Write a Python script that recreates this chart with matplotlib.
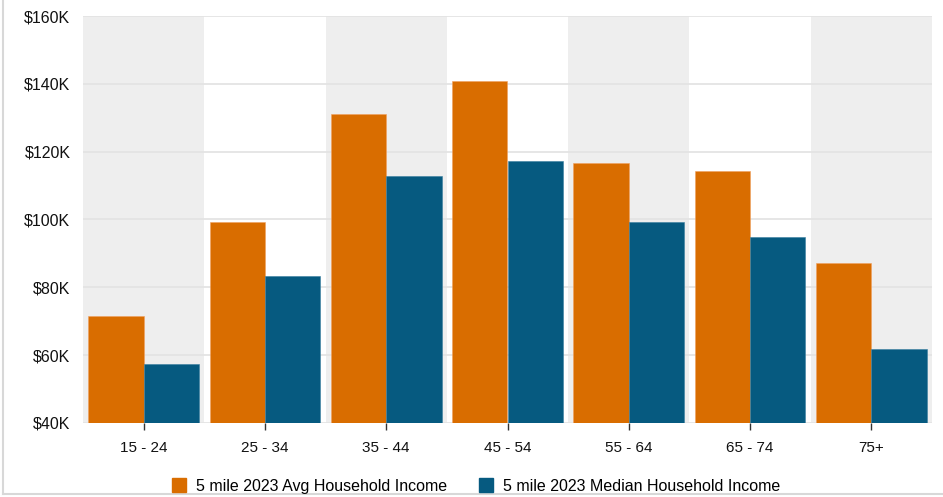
import matplotlib
matplotlib.use("Agg")
import matplotlib.pyplot as plt
import numpy as np
from matplotlib.lines import Line2D

categories = ["15 - 24", "25 - 34", "35 - 44", "45 - 54", "55 - 64", "65 - 74", "75+"]
avg_income = [71.5, 99.3, 131.1, 140.8, 116.7, 114.3, 87.2]
median_income = [57.4, 83.3, 112.8, 117.3, 99.3, 94.8, 61.8]
series_names = ["5 mile 2023 Avg Household Income", "5 mile 2023 Median Household Income"]
yticks = [40, 60, 80, 100, 120, 140, 160]
ytick_labels = ["$40K", "$60K", "$80K", "$100K", "$120K", "$140K", "$160K"]

orange = "#D96D00"
blue = "#065A80"

plt.rcParams['font.family'] = ['Liberation Sans', 'DejaVu Sans']

fig = plt.figure(figsize=(9.43, 4.97), dpi=100)
ax = fig.add_axes([83/943, 74/497, 849/943, 407/497])

x = np.arange(len(categories))
bw = 0.457
for i in range(len(categories)):
    if i % 2 == 0:
        ax.axvspan(i - 0.5, i + 0.5, color="#EEEEEE", zorder=0, lw=0)
ax.bar(x - bw/2, [v - 40 for v in avg_income], bw, bottom=40, color=orange, zorder=3,
       edgecolor="#F0A060", linewidth=0.4)
ax.bar(x + bw/2, [v - 40 for v in median_income], bw, bottom=40, color=blue, zorder=3,
       edgecolor="#3A7FA0", linewidth=0.4)

ax.set_xlim(-0.5, len(categories) - 0.5)
ax.set_ylim(40, 160)
ax.set_yticks(yticks)
ax.set_yticklabels(ytick_labels)
ax.set_xticks(x)
ax.set_xticklabels(categories)
ax.grid(axis='y', color="#E2E2E2", linewidth=1.2, zorder=1)
for s in ax.spines.values():
    s.set_visible(False)
ax.tick_params(axis='y', length=0, pad=9, labelsize=11.5, labelcolor="#111111")
ax.tick_params(axis='x', length=5, width=1, color="#333333", pad=8, labelsize=11, labelcolor="#111111")

handles = [plt.Rectangle((0, 0), 1, 1, color=orange), plt.Rectangle((0, 0), 1, 1, color=blue)]
fig.legend(handles, series_names, loc='center', bbox_to_anchor=(476/943, 1 - 486/497), ncol=2,
           frameon=False, fontsize=11.5, handlelength=0.9, handleheight=0.9, handletextpad=0.6,
           columnspacing=2.0)

# card border
fig.add_artist(Line2D([3/943, 3/943], [3/497, 1], color="#D8D8D8", lw=1.5, transform=fig.transFigure))
fig.add_artist(Line2D([3/943, 1], [3/497, 3/497], color="#D8D8D8", lw=1.5, transform=fig.transFigure))

fig.savefig("out.png", dpi=100)
